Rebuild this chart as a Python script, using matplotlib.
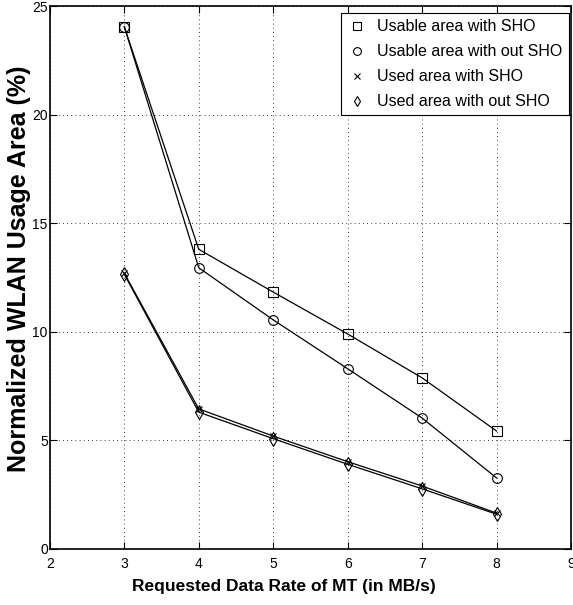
import matplotlib
matplotlib.use("Agg")
import matplotlib.pyplot as plt

plt.rcParams['font.family'] = ['Liberation Sans', 'DejaVu Sans']

# Data
rates = [3, 4, 5, 6, 7, 8]
usable_sho = [24.05, 13.8, 11.83, 9.9, 7.88, 5.43]
usable_no_sho = [24.05, 12.95, 10.55, 8.3, 6.03, 3.27]
used_sho = [12.7, 6.45, 5.2, 4.02, 2.9, 1.65]
used_no_sho = [12.65, 6.3, 5.08, 3.9, 2.77, 1.6]

labels = [
    "Usable area with SHO",
    "Usable area with out SHO",
    "Used area with SHO",
    "Used area with out SHO"]
markers = ["s", "o", "x", "d"]

fig = plt.figure(figsize=(5.73, 6.05), dpi=100)
ax = fig.add_axes([0.087, 0.0926, 0.9095, 0.8974])

# Plot each series as a black line with hollow markers
for values, label, marker in zip(
        [usable_sho, usable_no_sho, used_sho, used_no_sho], labels, markers):
    ax.plot(rates, values, color="black", linewidth=0.9, marker=marker,
            markersize=7 if marker != "x" else 5, markerfacecolor="none",
            markeredgecolor="black", markeredgewidth=0.8, label=label)

ax.set_xlim(2, 9)
ax.set_ylim(0, 25)
ax.set_xticks(range(2, 10))
ax.set_yticks([0, 5, 10, 15, 20, 25])
ax.tick_params(direction="in", labelsize=10, length=5, width=0.8,
               top=True, right=True)
ax.tick_params(axis="x", pad=6)
ax.tick_params(axis="y", pad=1.5)
ax.grid(True, linestyle=(0, (1, 4)), color="black", linewidth=0.6)
for spine in ax.spines.values():
    spine.set_linewidth(1.2)

ax.set_xlabel("Requested Data Rate of MT (in MB/s)", fontsize=12.5,
              fontweight="bold")
ax.xaxis.set_label_coords(0.45, -0.056)
ax.set_ylabel("Normalized WLAN Usage Area (%)", fontsize=18,
              fontweight="bold")
ax.yaxis.set_label_coords(-0.037, 0.516)

leg = ax.legend(loc="upper right", fontsize=11.5, frameon=True,
                fancybox=False, edgecolor="black", framealpha=1,
                bbox_to_anchor=(0.993, 0.9785),
                bbox_transform=fig.transFigure, borderaxespad=0,
                handlelength=1.2, handletextpad=0.65, labelspacing=0.62,
                borderpad=0.4, markerscale=0.8)
leg.get_frame().set_linewidth(0.8)
for line in leg.get_lines():
    line.set_linestyle("none")

fig.savefig("out.png", dpi=100)
